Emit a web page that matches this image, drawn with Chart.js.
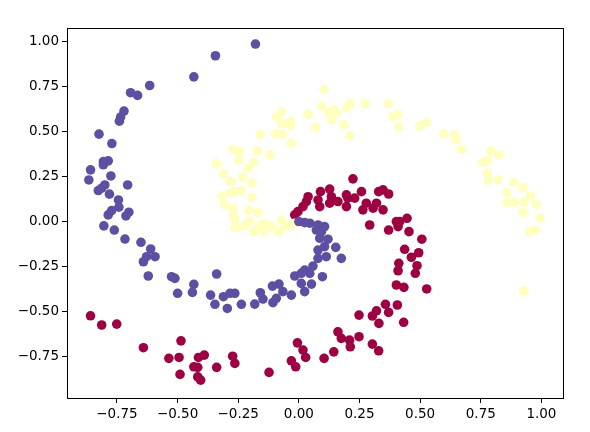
<!DOCTYPE html>
<html>
<head>
<meta charset="utf-8">
<script src="https://cdn.jsdelivr.net/npm/chart.js@4"></script>
<style>
  html, body { margin: 0; padding: 0; background: #fff; }
  #wrap { width: 590px; height: 432px; }
</style>
</head>
<body>
<div id="wrap"><canvas id="spiralChart" width="590" height="432"></canvas></div>
<script>
// class 0 (red)
const redX = [0.223, 0.038, 0.031, 0.017, -0.004, -0.017, 0.089, 0.079, 0.086, 0.127, 0.134, 0.127, 0.161, 0.196, 0.202, 0.196, 0.230, 0.258, 0.278, 0.264, 0.320, 0.306, 0.329, 0.347, 0.370, 0.347, 0.292, 0.370, 0.402, 0.446, 0.416, 0.409, 0.454, 0.507, 0.436, 0.494, 0.464, 0.412, 0.487, 0.409, 0.480, 0.402, 0.433, 0.527, 0.406, 0.432, 0.357, 0.320, 0.303, 0.370, 0.330, 0.248, 0.161, 0.175, 0.209, 0.212, 0.248, 0.303, 0.329, 0.144, 0.104, -0.006, 0.017, 0.028, -0.031, -0.013, -0.123, -0.273, -0.264, -0.339, -0.414, -0.390, -0.433, -0.417, -0.490, -0.417, -0.405, -0.486, -0.536, -0.494, -0.641, -0.859, -0.813, -0.751];
const redY = [0.238, 0.139, 0.112, 0.084, 0.056, 0.038, 0.167, 0.121, 0.084, 0.181, 0.139, 0.103, 0.112, 0.149, 0.131, 0.084, 0.131, 0.167, 0.103, 0.066, 0.103, 0.075, 0.167, 0.177, 0.154, 0.066, -0.018, -0.046, 0.001, 0.019, 0.001, -0.027, -0.055, -0.097, -0.153, -0.172, -0.197, -0.231, -0.244, -0.272, -0.286, -0.351, -0.364, -0.373, -0.462, -0.558, -0.458, -0.494, -0.523, -0.503, -0.564, -0.518, -0.611, -0.647, -0.657, -0.694, -0.638, -0.679, -0.716, -0.722, -0.758, -0.672, -0.712, -0.753, -0.772, -0.805, -0.836, -0.746, -0.786, -0.808, -0.753, -0.740, -0.805, -0.808, -0.847, -0.861, -0.879, -0.661, -0.758, -0.753, -0.699, -0.522, -0.573, -0.568];

// class 1 (yellow)
const yellowX = [0.104, 0.095, 0.212, 0.198, 0.274, 0.369, 0.388, 0.409, 0.412, 0.145, 0.123, 0.155, 0.136, 0.186, 0.209, 0.039, 0.068, -0.071, -0.092, -0.070, -0.035, -0.034, -0.159, -0.097, -0.067, -0.031, -0.269, -0.244, -0.171, -0.119, 0.499, 0.527, 0.597, 0.641, 0.648, 0.670, 0.792, 0.825, 0.759, 0.777, 0.777, 0.780, 0.821, 0.886, 0.924, 0.858, 0.955, 0.858, 0.887, 0.928, 0.979, 0.923, 0.994, 0.975, 0.951, 0.927, -0.248, -0.186, -0.210, -0.231, -0.278, -0.193, -0.265, -0.237, -0.193, -0.272, -0.207, -0.169, -0.265, -0.255, -0.224, -0.203, -0.186, -0.162, -0.141, -0.144, -0.113, -0.083, -0.072, -0.059, -0.038, -0.017, -0.339, -0.311, -0.284, -0.318, -0.284, -0.305, -0.270, -0.264];
const yellowY = [0.734, 0.642, 0.656, 0.631, 0.654, 0.654, 0.584, 0.595, 0.527, 0.623, 0.604, 0.604, 0.564, 0.538, 0.475, 0.597, 0.523, 0.608, 0.581, 0.543, 0.558, 0.536, 0.484, 0.488, 0.484, 0.436, 0.401, 0.388, 0.392, 0.371, 0.532, 0.551, 0.488, 0.481, 0.454, 0.401, 0.392, 0.369, 0.331, 0.339, 0.269, 0.228, 0.232, 0.219, 0.189, 0.162, 0.143, 0.108, 0.108, 0.108, 0.097, 0.051, 0.021, -0.046, -0.055, -0.383, 0.343, 0.328, 0.297, 0.247, 0.223, 0.214, 0.167, 0.173, 0.136, 0.075, 0.062, 0.051, 0.019, -0.027, -0.023, 0.001, -0.055, -0.023, -0.012, -0.055, -0.027, -0.055, 0.010, -0.027, -0.018, -0.008, 0.321, 0.266, 0.223, 0.139, 0.158, 0.093, 0.038, -0.031];

// class 2 (purple)
const purpleX = [-0.179, -0.344, -0.433, -0.615, -0.694, -0.665, -0.721, -0.735, -0.740, -0.824, -0.771, -0.806, -0.786, -0.806, -0.859, -0.775, -0.866, -0.800, -0.827, -0.813, -0.706, -0.781, -0.744, -0.742, -0.772, -0.786, -0.701, -0.713, -0.804, -0.761, -0.717, -0.651, -0.611, -0.593, -0.628, -0.641, -0.621, -0.525, -0.511, -0.339, -0.433, -0.439, -0.500, -0.364, -0.311, -0.284, -0.264, -0.346, -0.295, -0.237, -0.182, -0.159, -0.148, -0.109, -0.082, -0.107, -0.093, -0.066, -0.031, -0.017, 0.010, 0.010, 0.045, 0.052, 0.024, 0.097, 0.024, 0.058, 0.079, 0.175, 0.113, 0.079, 0.152, 0.106, 0.120, 0.086, 0.093, 0.072, 0.106, 0.079, 0.045, 0.024, 0.000];
const purpleY = [0.986, 0.921, 0.804, 0.756, 0.716, 0.701, 0.614, 0.581, 0.558, 0.486, 0.434, 0.334, 0.338, 0.316, 0.288, 0.254, 0.232, 0.204, 0.173, 0.186, 0.204, 0.153, 0.121, 0.081, 0.062, 0.038, 0.053, 0.032, -0.023, -0.046, -0.096, -0.114, -0.151, -0.194, -0.194, -0.222, -0.301, -0.305, -0.314, -0.290, -0.347, -0.392, -0.397, -0.407, -0.416, -0.397, -0.397, -0.458, -0.481, -0.458, -0.457, -0.394, -0.429, -0.357, -0.346, -0.449, -0.425, -0.388, -0.407, -0.301, -0.286, -0.342, -0.286, -0.346, -0.388, -0.305, -0.268, -0.246, -0.203, -0.203, -0.194, -0.157, -0.142, -0.138, -0.097, -0.092, -0.055, -0.046, -0.027, -0.018, -0.008, -0.005, 0.001];

const xTicks = [-0.75, -0.5, -0.25, 0, 0.25, 0.5, 0.75, 1.0];
const yTicks = [-0.75, -0.5, -0.25, 0, 0.25, 0.5, 0.75, 1.0];

function pts(xs, ys) {
  return xs.map(function (x, i) { return { x: x, y: ys[i] }; });
}

function fmt(v) {
  return (v < 0 ? "\u2212" : "") + Math.abs(v).toFixed(2);
}

// full black frame like matplotlib spines
const frame = {
  id: "frame",
  afterDraw: function (chart) {
    const a = chart.chartArea;
    const ctx = chart.ctx;
    ctx.save();
    ctx.strokeStyle = "#000";
    ctx.lineWidth = 1;
    ctx.strokeRect(Math.round(a.left) + 0.5, Math.round(a.top) + 0.5,
      Math.round(a.right - a.left), Math.round(a.bottom - a.top));
    ctx.restore();
  },
};

const tickFont = { family: "DejaVu Sans", size: 13.5 };

new Chart(document.getElementById("spiralChart"), {
  type: "scatter",
  data: {
    datasets: [
      { data: pts(purpleX, purpleY), backgroundColor: "#5e4fa2", order: 0 },
      { data: pts(yellowX, yellowY), backgroundColor: "#ffffbf", order: 1 },
      { data: pts(redX, redY), backgroundColor: "#9e0142", order: 2 },
    ],
  },
  options: {
    responsive: false,
    animation: false,
    layout: { padding: { left: 0, right: 27, top: 28, bottom: 0 } },
    elements: { point: { radius: 4.8, borderWidth: 0, hoverRadius: 4.8 } },
    plugins: { legend: { display: false }, tooltip: { enabled: false } },
    scales: {
      x: {
        type: "linear",
        min: -0.956,
        max: 1.089,
        afterBuildTicks: function (s) { s.ticks = xTicks.map(function (v) { return { value: v }; }); },
        afterFit: function (s) { s.height = 34; },
        grid: { drawOnChartArea: false, drawTicks: true, tickLength: 5, color: "#000" },
        border: { display: true, color: "#000" },
        ticks: { color: "#000", font: tickFont, padding: 3, maxRotation: 0, callback: fmt },
      },
      y: {
        type: "linear",
        min: -0.978,
        max: 1.075,
        afterBuildTicks: function (s) { s.ticks = yTicks.map(function (v) { return { value: v }; }); },
        afterFit: function (s) { s.width = 67; },
        grid: { drawOnChartArea: false, drawTicks: true, tickLength: 5, color: "#000" },
        border: { display: true, color: "#000" },
        ticks: { color: "#000", font: tickFont, padding: 3, callback: fmt },
      },
    },
  },
  plugins: [frame],
});
</script>
</body>
</html>
